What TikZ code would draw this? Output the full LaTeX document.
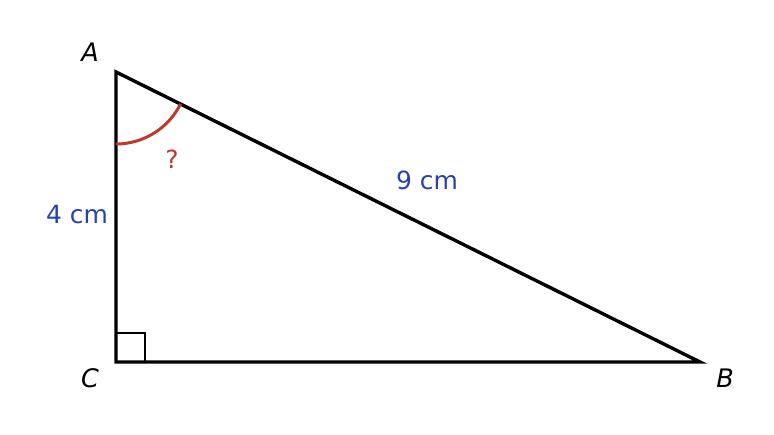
\documentclass[tikz,border=0pt]{standalone}
\usepackage{fontspec}
\setmainfont{DejaVu Sans}
\definecolor{angred}{HTML}{C0392B}
\definecolor{lblue}{HTML}{2541B2}
\begin{document}
\begin{tikzpicture}[x=1pt,y=-1pt,
  side/.style={line width=3.4pt,line join=miter},
  vlabel/.style={font=\fontsize{25.5}{30}\selectfont\itshape,text=black,inner sep=0pt},
  mlabel/.style={font=\fontsize{25}{30}\selectfont,text=lblue,inner sep=0pt}]
\useasboundingbox (0,0) rectangle (774,435);
\coordinate (A) at (116,72);
\coordinate (C) at (116,362);
\coordinate (B) at (700,362);
\draw[line width=2.5pt] (116,333) -| (145,362);
\draw[side] (A) -- (C) -- (B) -- cycle;
\draw[angred,line width=3pt] (116,144) arc[start angle=90,end angle=26.4,radius=72];
\node[vlabel] (lA) at (90,52) {A};
\node[vlabel] (lC) at (90,378) {C};
\node[vlabel] (lB) at (725,378) {B};
\node[mlabel] (l4) at (77,215) {4 cm};
\node[mlabel] (l9) at (427,180) {9 cm};
\node[mlabel,text=angred] (q) at (172,159) {?};
\end{tikzpicture}
\end{document}
